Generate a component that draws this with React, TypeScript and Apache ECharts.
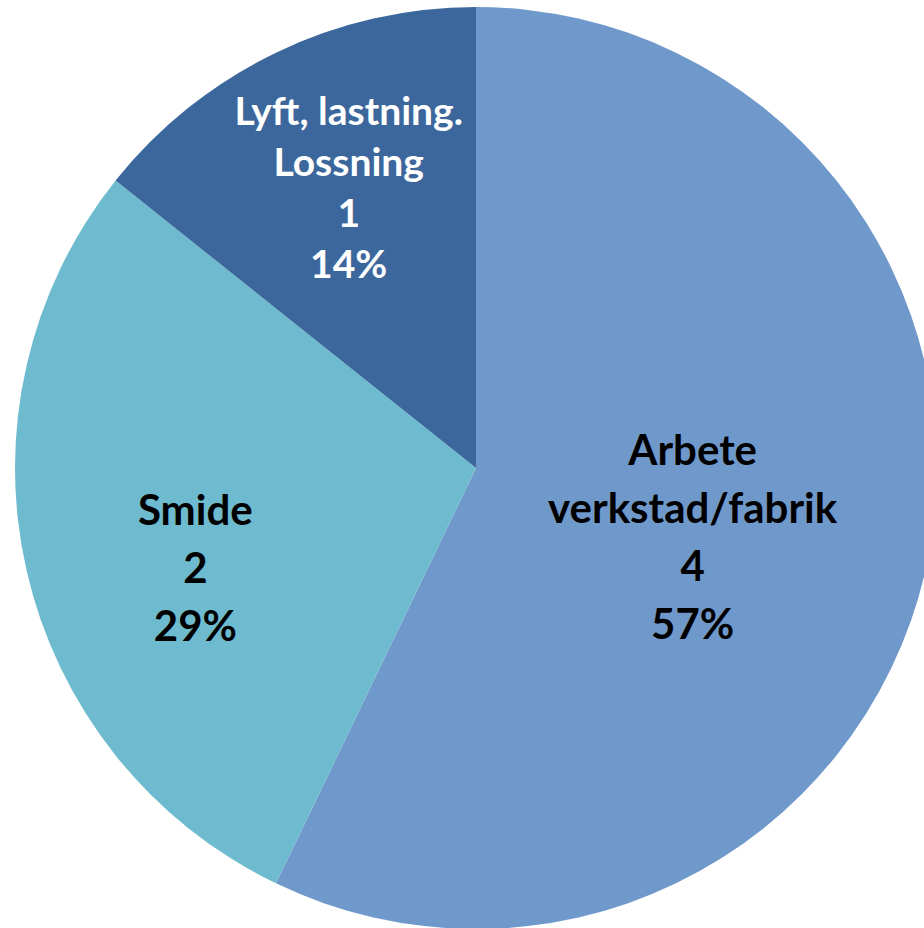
import React, { useEffect, useRef } from "react";
import * as echarts from "echarts";

const categories = ["Arbete\nverkstad/fabrik", "Smide", "Lyft, lastning.\nLossning"];
const values = [4, 2, 1];
const colors = ["#7099CB", "#6EBBCF", "#3C679C"];
const labelColors = ["#000000", "#000000", "#FFFFFF"];
const labelFontSizes = [42, 42, 39];
const labelLineHeights = [58, 58, 51];
const labelShift = [
  [-11, 16],
  [-53, 47],
  [-26, -71],
];

export default function App() {
  const ref = useRef<HTMLDivElement>(null);
  useEffect(() => {
    if (!ref.current) return;
    const chart = echarts.init(ref.current, null, { renderer: "svg" });
    chart.setOption({
      animation: false,
      backgroundColor: "#FFFFFF",
      series: [
        {
          type: "pie",
          center: [476, 468],
          radius: 461,
          startAngle: 90,
          clockwise: true,
          percentPrecision: 0,
          avoidLabelOverlap: false,
          itemStyle: { borderWidth: 0 },
          label: {
            show: true,
            position: "inside",
            formatter: "{b}\n{c}\n{d}%",
            fontFamily: "Lato, 'Open Sans', sans-serif",
            fontWeight: "bold",
            fontSize: 42,
            lineHeight: 58,
            align: "center",
          },
          labelLine: { show: false },
          emphasis: { disabled: true },
          labelLayout: (p: any) => ({
            dx: labelShift[p.dataIndex][0],
            dy: labelShift[p.dataIndex][1],
          }),
          data: categories.map((c, i) => ({
            name: c,
            value: values[i],
            itemStyle: { color: colors[i] },
            label: {
              color: labelColors[i],
              fontSize: labelFontSizes[i],
              lineHeight: labelLineHeights[i],
            },
          })),
        },
      ],
    });
    return () => chart.dispose();
  }, []);
  return (
    <div
      ref={ref}
      style={{ position: "absolute", left: 0, top: 0, width: 924, height: 928 }}
    />
  );
}
